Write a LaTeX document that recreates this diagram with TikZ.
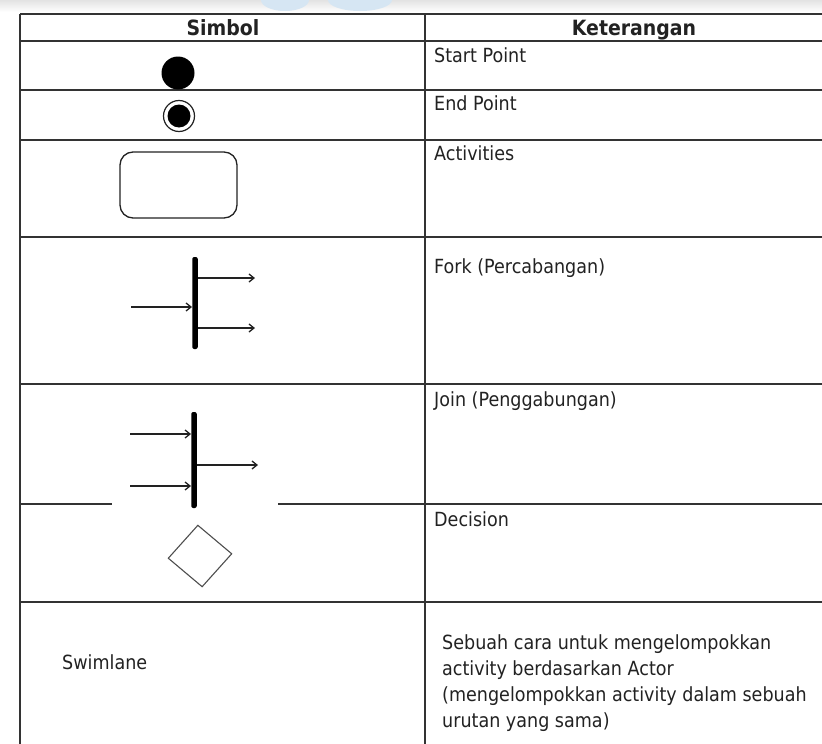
\documentclass[tikz,border=0pt]{standalone}
\usepackage{fontspec}
\setmainfont{DejaVu Sans}[FakeStretch=0.9]
\usetikzlibrary{arrows.meta,shapes.geometric}
\definecolor{rulec}{HTML}{333333}
\definecolor{ink}{HTML}{222222}
\definecolor{wmblue}{HTML}{D6E6F3}
\tikzset{
  rulel/.style={draw=rulec,line width=2pt},
  lbl/.style={anchor=base west,inner sep=0pt,font=\fontsize{19.5}{26}\selectfont,text=ink},
  hdr/.style={anchor=base,inner sep=0pt,font=\fontsize{21}{24}\selectfont\bfseries,text=ink},
  thickbar/.style={fill=black,inner sep=0pt,minimum width=5.5pt,rounded corners=2pt},
  arr/.style={draw=ink,line width=1.3pt,-{Straight Barb[length=5pt,width=8pt]}},
}
\begin{document}
\begin{tikzpicture}[x=1pt,y=-1pt]
\useasboundingbox (0,0) rectangle (822,744);
\fill[white] (0,0) rectangle (822,744);
% faint top band / watermark
\shade[top color=gray!22,bottom color=white] (0,0) rectangle (822,12);
\begin{scope}
  \clip (0,0) rectangle (822,12);
  \fill[wmblue] (285,0) ellipse [x radius=24, y radius=11];
  \fill[wmblue] (360,0) ellipse [x radius=32, y radius=11];
\end{scope}
% table rules
\draw[rulel] (20,14) -- (822,14);
\foreach \yy in {41,90,140,237,384,602} \draw[rulel] (20,\yy) -- (822,\yy);
\draw[rulel] (20,504) -- (112,504);
\draw[rulel] (278,504) -- (822,504);
\draw[rulel] (20,14) -- (20,744);
\draw[rulel] (425,14) -- (425,744);
% headers
\node[hdr] (h1) at (223,35) {Simbol};
\node[hdr] (h2) at (634,35) {Keterangan};
% descriptions
\node[lbl] (d1) at (434,62) {Start Point};
\node[lbl] (d2) at (434,110) {End Point};
\node[lbl] (d3) at (434,160) {Activities};
\node[lbl] (d4) at (434,273) {Fork (Percabangan)};
\node[lbl] (d5) at (434,406) {Join (Penggabungan)};
\node[lbl] (d6) at (434,526) {Decision};
\node[lbl,anchor=north west,align=left] (d7) at (442,634)
  {Sebuah cara untuk mengelompokkan\\activity berdasarkan Actor\\(mengelompokkan activity dalam sebuah\\urutan yang sama)};
\node[lbl] (s7) at (62,669) {Swimlane};
% start point
\node[circle,fill=black,inner sep=0pt,minimum size=33pt] (start) at (178,73) {};
% end point
\node[circle,draw=ink,line width=1.2pt,inner sep=0pt,minimum size=31pt] (endo) at (179,116) {};
\node[circle,fill=black,inner sep=0pt,minimum size=23pt] (endi) at (endo.center) {};
% activity
\node[draw=ink,line width=1.3pt,rounded corners=13pt,minimum width=117pt,minimum height=66pt,inner sep=0pt] (act) at (178.5,185) {};
% fork
\node[thickbar,minimum height=92pt] (fork) at (195,303) {};
\coordinate (fin) at (131,307);
\coordinate (fo1) at (255,278);
\coordinate (fo2) at (255,328);
\draw[arr] (fin) -- (fin -| fork.west);
\draw[arr] (fo1 -| fork.east) -- (fo1);
\draw[arr] (fo2 -| fork.east) -- (fo2);
% join
\node[thickbar,minimum height=96pt] (join) at (194,460) {};
\coordinate (ji1) at (130,434);
\coordinate (ji2) at (130,486);
\coordinate (jo) at (258,465);
\draw[arr] (ji1) -- (ji1 -| join.west);
\draw[arr] (ji2) -- (ji2 -| join.west);
\draw[arr] (jo -| join.east) -- (jo);
% decision
\node[diamond,draw=ink!80,line width=1.1pt,minimum width=64pt,minimum height=62pt,inner sep=0pt,rotate=4] (dec) at (200,556) {};
\end{tikzpicture}
\end{document}
